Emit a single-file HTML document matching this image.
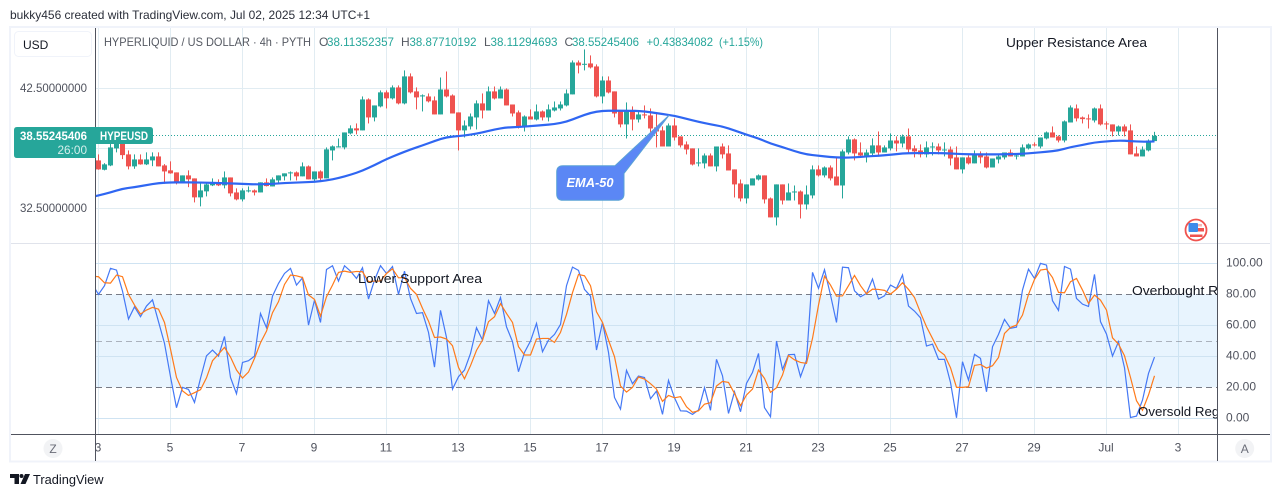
<!DOCTYPE html>
<html lang="en">
<head>
<meta charset="utf-8">
<title>HYPERLIQUID / US DOLLAR chart</title>
<style>
html,body{margin:0;padding:0;background:#fff;width:1281px;height:497px;overflow:hidden}
svg{display:block}
text{font-family:"Liberation Sans",sans-serif;font-size:12px}
</style>
</head>
<body>
<svg id="chart" xmlns="http://www.w3.org/2000/svg" width="1281" height="497" viewBox="0 0 1281 497">
  <defs>
    <clipPath id="mainClip"><rect x="96" y="28" width="1121" height="215"/></clipPath>
    <clipPath id="stochClip"><rect x="96" y="244" width="1121" height="190"/></clipPath>
  </defs>
  <rect x="0" y="0" width="1281" height="497" fill="#ffffff"/>
  <text x="10" y="19" fill="#2a2e39" textLength="360" lengthAdjust="spacingAndGlyphs">bukky456 created with TradingView.com, Jul 02, 2025 12:34 UTC+1</text>
  <rect x="10" y="27" width="1261" height="434.500" fill="none" stroke="#f0f3fa" stroke-width="2"/>

  <g id="gridLayer"></g>
  <rect x="96" y="294.3" width="1121" height="93" fill="#2196f3" fill-opacity="0.1"/>
  <g id="stochGrid"></g>
  <line x1="96" x2="1217" y1="294.5" y2="294.5" stroke="#787b86" stroke-dasharray="6 4"/>
  <line x1="96" x2="1217" y1="341.5" y2="341.5" stroke="#787b86" stroke-opacity="0.55" stroke-dasharray="6 4"/>
  <line x1="96" x2="1217" y1="387.5" y2="387.5" stroke="#787b86" stroke-dasharray="6 4"/>

  <line x1="96" x2="1217" y1="135.5" y2="135.5" stroke="#26a69a" stroke-dasharray="1 2"/>
  <g id="candleLayer" clip-path="url(#mainClip)"></g>
  <path id="emaLine" fill="none" stroke="#2f66f2" stroke-width="2.2" stroke-linejoin="round" clip-path="url(#mainClip)"/>
  <polyline id="stochK" fill="none" stroke="#4478f5" stroke-width="1.2" clip-path="url(#stochClip)"/>
  <polyline id="stochD" fill="none" stroke="#ff7a1a" stroke-width="1.2" clip-path="url(#stochClip)"/>

  <path d="M563,165.7 H615 L669.3,115 L624,173.500 V194 Q624,200.300 617,200.300 H563 Q556.700,200.300 556.700,194 V172 Q556.700,165.700 563,165.700 Z" fill="#5b87f5" stroke="#5aa2d6" stroke-width="1"/>
  <text x="566.500" y="187" fill="#ffffff" font-style="italic" font-weight="bold" style="font-size:13px" textLength="47" lengthAdjust="spacingAndGlyphs">EMA-50</text>

  <text x="1006" y="47" fill="#131722" style="font-size:13px" textLength="141" lengthAdjust="spacingAndGlyphs">Upper Resistance Area</text>
  <text x="358" y="283" fill="#131722" style="font-size:13px" textLength="124" lengthAdjust="spacingAndGlyphs">Lower Support Area</text>
  <g clip-path="url(#stochClip)">
    <text x="1132" y="295" fill="#131722" style="font-size:13px" textLength="120" lengthAdjust="spacingAndGlyphs">Overbought Region</text>
    <text x="1138" y="416" fill="#131722" style="font-size:13px" textLength="99" lengthAdjust="spacingAndGlyphs">Oversold Region</text>
  </g>

  <g>
    <text x="104" y="46" fill="#555962" textLength="207" lengthAdjust="spacingAndGlyphs">HYPERLIQUID / US DOLLAR · 4h · PYTH</text>
    <text x="319" y="46" fill="#555962">O</text>
    <text x="327" y="46" fill="#26a69a" textLength="67" lengthAdjust="spacingAndGlyphs">38.11352357</text>
    <text x="401" y="46" fill="#555962">H</text>
    <text x="409.500" y="46" fill="#26a69a" textLength="67" lengthAdjust="spacingAndGlyphs">38.87710192</text>
    <text x="484" y="46" fill="#555962">L</text>
    <text x="490.500" y="46" fill="#26a69a" textLength="67" lengthAdjust="spacingAndGlyphs">38.11294693</text>
    <text x="564.500" y="46" fill="#555962">C</text>
    <text x="572" y="46" fill="#26a69a" textLength="67" lengthAdjust="spacingAndGlyphs">38.55245406</text>
    <text x="646.500" y="46" fill="#26a69a" textLength="66.500" lengthAdjust="spacingAndGlyphs">+0.43834082</text>
    <text x="719" y="46" fill="#26a69a" textLength="44" lengthAdjust="spacingAndGlyphs">(+1.15%)</text>
  </g>

  <g>
    <circle cx="1196" cy="230" r="10.500" fill="#ffffff" stroke="#f0534f" stroke-width="1.800"/>
    <rect x="1197" y="228" width="7" height="3.500" fill="#f0534f"/>
    <rect x="1190" y="234.500" width="12.500" height="2.500" fill="#f0534f"/>
    <rect x="1188.500" y="223" width="9.500" height="9" rx="1" fill="#3d8bea"/>
    <rect x="1198" y="224" width="4" height="2.500" fill="#f7b4b2"/>
  </g>

  <g id="priceAxis"></g>
  <g id="stochAxis"></g>
  <g id="timeAxis"></g>

  <line x1="11" x2="1270" y1="243.500" y2="243.500" stroke="#e0e3eb" stroke-width="1"/>
  <line x1="11" x2="1270" y1="434.500" y2="434.500" stroke="#50535e" stroke-width="1"/>
  <line x1="95.500" x2="95.500" y1="28" y2="461" stroke="#50535e" stroke-width="1"/>
  <line x1="1217.500" x2="1217.500" y1="28" y2="461" stroke="#50535e" stroke-width="1"/>

  <g>
    <rect x="14.500" y="31.500" width="77" height="25" rx="4" fill="#ffffff" stroke="#f0f3fa"/>
    <text x="23" y="49" fill="#131722">USD</text>
  </g>

  <g>
    <path d="M96,127 H150 Q153,127 153,130 V141 Q153,144 150,144 H96 Z" fill="#26a69a"/>
    <path d="M96,127 H17 Q14,127 14,130 V155 Q14,158 17,158 H96 Z" fill="#26a69a"/>
    <text x="87" y="140" fill="#ffffff" text-anchor="end" font-weight="bold" textLength="67" lengthAdjust="spacingAndGlyphs">38.55245406</text>
    <text x="87" y="154" fill="#d5efec" text-anchor="end" textLength="29.500" lengthAdjust="spacingAndGlyphs">26:00</text>
    <text x="100" y="140" fill="#ffffff" font-weight="bold" textLength="48" lengthAdjust="spacingAndGlyphs">HYPEUSD</text>
  </g>

  <g>
    <circle cx="53" cy="448.500" r="9.500" fill="#f2f3f5"/>
    <text x="53" y="453" fill="#6a6d78" text-anchor="middle">Z</text>
  </g>
  <g>
    <circle cx="1244.700" cy="448.500" r="9.500" fill="#f2f3f5"/>
    <text x="1244.700" y="453" fill="#6a6d78" text-anchor="middle">A</text>
  </g>

  <g>
    <polygon points="10,474 19,474 19,484 14.500,484 14.500,478 10,478" fill="#131722"/>
    <circle cx="21.500" cy="476" r="2" fill="#131722"/>
    <polygon points="25,474 30,474 25.500,484 20.500,484" fill="#131722"/>
    <text x="33" y="484" fill="#131722" style="font-size:13px" textLength="70.500" lengthAdjust="spacingAndGlyphs">TradingView</text>
  </g>
</svg>

<script>
const opens = [
36.50,35.72,36.08,37.50,38.02,37.00,36.00,36.58,36.17,36.50,
36.83,36.08,35.67,35.50,34.67,35.25,35.00,33.42,33.92,34.42,
34.69,34.42,35.08,33.83,33.25,33.92,34.00,33.83,34.67,34.33,
34.83,35.17,35.42,35.50,35.17,36.00,34.92,35.58,35.00,37.33,
37.58,37.58,38.75,39.17,39.00,41.58,40.08,41.00,42.17,41.67,
42.58,41.25,43.50,42.25,41.83,41.83,41.50,40.33,42.41,41.91,
40.50,39.00,39.33,40.08,41.25,40.66,42.25,41.66,42.41,41.16,
40.50,39.25,40.16,39.91,40.58,40.08,40.66,40.83,41.08,42.00,
44.66,44.52,44.58,44.33,41.83,43.16,42.25,40.58,39.50,40.58,
39.91,40.33,40.25,39.25,39.00,37.66,39.41,38.50,37.83,37.50,
36.25,36.25,36.91,36.00,37.66,37.08,35.75,34.58,33.33,34.41,
34.91,35.25,33.33,31.75,34.50,33.16,33.83,33.91,32.83,33.58,
35.75,35.25,35.91,35.16,34.41,37.16,38.25,37.16,36.91,37.08,
37.75,37.16,37.50,38.16,37.91,38.50,37.50,37.33,37.00,37.61,
37.66,37.36,37.41,36.75,35.75,36.75,36.25,36.91,36.83,35.91,
36.58,36.75,37.16,36.86,36.83,37.50,37.83,37.66,38.33,38.83,
38.50,38.16,39.66,40.83,40.08,40.00,39.83,40.83,39.58,39.50,
38.91,39.33,39.00,37.08,36.83,37.33,38.11];
const highs = [
37.00,36.27,37.89,38.17,38.17,37.33,37.00,37.00,37.17,37.17,
37.17,36.19,36.42,35.50,35.25,35.67,35.00,34.58,34.58,35.00,
34.92,35.58,35.08,34.17,34.17,34.33,34.08,34.67,35.00,35.08,
35.25,35.42,35.58,35.58,36.33,36.08,35.58,35.67,37.58,37.75,
38.33,38.83,39.42,39.58,41.83,41.67,41.08,42.33,42.33,42.75,
42.75,44.00,43.75,42.58,42.00,42.08,41.83,43.41,43.91,42.00,
40.50,39.83,40.41,41.50,42.08,42.66,42.66,42.66,42.50,41.16,
40.66,40.25,40.75,41.16,40.66,41.16,41.41,41.41,42.41,44.83,
44.83,45.75,45.25,44.50,43.50,43.50,42.25,40.66,41.33,41.00,
40.66,41.08,40.83,40.41,39.33,39.58,40.00,38.50,38.08,37.50,
37.50,37.08,37.08,37.66,37.91,37.75,35.75,34.91,34.50,35.00,
35.33,35.25,33.41,34.50,34.50,34.58,34.41,34.00,34.41,36.08,
36.08,36.00,36.08,36.66,37.41,38.50,38.33,38.00,37.41,38.33,
38.91,37.75,38.75,38.50,38.66,39.16,37.75,37.83,38.08,38.00,
37.91,38.00,37.66,37.66,36.75,36.91,37.33,37.25,37.16,36.66,
36.91,37.16,37.41,37.00,37.83,37.91,38.00,38.41,38.91,39.33,
38.58,39.83,41.08,41.16,40.16,40.33,40.91,41.16,39.75,39.50,
39.41,39.50,39.50,37.66,37.66,38.25,38.88];
const lows = [
35.72,35.67,36.02,37.17,36.61,35.75,35.80,36.14,36.11,36.02,
36.00,34.55,35.39,34.50,34.67,34.27,33.00,32.67,33.50,34.36,
34.36,34.17,33.50,33.17,33.08,33.83,33.58,33.83,34.33,34.33,
34.58,34.83,34.83,34.83,35.17,34.92,34.75,34.83,35.00,36.50,
37.58,37.42,38.67,38.67,39.00,39.58,39.75,40.92,40.83,41.58,
41.17,41.17,42.08,40.75,40.58,41.33,40.33,40.33,41.75,40.41,
37.33,38.41,39.08,39.08,40.00,40.66,41.58,41.66,41.08,40.16,
39.16,38.91,39.91,39.83,39.83,39.75,40.58,40.66,41.00,42.00,
43.75,44.00,44.16,41.75,41.25,42.08,40.08,39.25,38.33,39.00,
39.66,40.00,38.75,37.58,37.66,37.66,38.16,37.58,37.00,36.08,
36.00,35.83,36.00,35.58,36.66,35.66,33.41,33.08,32.91,34.41,
34.83,32.91,31.75,31.08,32.83,33.16,33.16,31.66,32.41,33.33,
35.16,35.08,34.83,34.41,33.33,37.00,36.50,36.75,36.33,36.91,
36.83,37.16,37.33,37.25,37.58,37.16,36.75,36.75,36.75,36.91,
37.00,36.83,36.08,35.75,35.41,36.16,36.25,36.25,35.83,35.91,
36.25,36.58,36.83,36.58,36.83,37.41,37.66,37.50,38.25,38.41,
38.00,38.00,39.66,39.75,39.58,39.16,39.66,39.41,39.08,38.50,
38.58,38.50,37.00,36.83,36.83,37.25,38.11];
const closes = [
35.75,36.17,37.58,38.02,36.94,36.00,36.58,36.17,36.58,36.83,
36.00,35.58,35.42,34.67,35.25,34.92,33.42,34.00,34.50,34.69,
34.42,35.08,33.75,33.25,34.00,34.00,33.83,34.67,34.36,34.92,
35.25,35.42,35.50,35.17,36.00,34.92,35.58,35.00,37.42,37.67,
37.67,38.83,39.17,39.00,41.58,40.08,41.08,42.17,41.67,42.58,
41.25,43.50,42.17,41.75,41.92,41.42,40.33,42.41,41.83,40.41,
39.00,39.41,40.16,41.25,40.66,42.25,41.66,42.41,41.08,40.41,
39.25,40.16,39.91,40.58,40.08,40.75,40.91,41.16,42.08,44.66,
44.41,44.55,44.25,41.83,43.16,42.16,40.41,39.50,40.58,39.91,
40.33,40.25,39.16,38.91,37.66,39.41,38.41,37.75,37.41,36.16,
36.33,36.91,36.00,37.66,37.00,35.66,34.50,33.33,34.50,35.00,
35.25,33.25,31.75,34.50,33.16,33.83,33.91,32.83,33.66,35.75,
35.25,35.91,35.00,34.41,37.25,38.25,37.08,36.91,37.16,37.75,
37.16,37.58,38.16,37.91,38.50,37.41,37.25,37.00,37.58,37.66,
37.33,37.41,36.66,35.75,36.75,36.25,36.91,36.75,35.91,36.66,
36.83,37.16,36.83,36.91,37.58,37.83,37.77,38.41,38.83,38.41,
38.16,39.75,40.91,40.00,39.94,39.94,40.83,39.50,39.52,38.91,
39.33,38.91,37.00,36.83,37.41,38.16,38.55];

/* first entry sits one bar before the first candle and is clipped by the pane */
const emaBars = [
-1,0,2,4,6,8,10,12,14,16,18,20,22,24,26,28,30,32,34,36,38,40,42,44,46,48,50,52,54,
56,58,60,62,64,66,68,70,72,74,76,78,80,82,84,86,88,90,92,94,96,98,100,102,104,106,108,110,
112,114,116,118,120,122,124,126,128,130,132,134,136,138,140,142,144,146,148,150,152,154,156,158,160,162,164,166,168,170,172,174,176];
const emaValues = [
33.46,33.58,33.83,34.14,34.27,34.44,34.61,34.67,34.67,34.67,34.64,34.61,34.58,34.55,34.50,34.52,34.58,34.64,34.67,34.72,34.83,35.02,35.30,35.64,36.11,36.61,37.02,37.41,37.75,
38.11,38.44,38.52,38.64,38.83,39.08,39.25,39.28,39.36,39.44,39.52,39.72,40.11,40.47,40.64,40.64,40.63,40.63,40.52,40.36,40.22,39.97,39.72,39.50,39.33,39.00,38.64,38.33,
37.91,37.61,37.27,37.00,36.89,36.78,36.72,36.75,36.83,36.89,36.97,37.08,37.11,37.11,37.11,37.08,37.02,37.00,37.00,37.00,37.02,37.05,37.13,37.22,37.33,37.61,37.78,38.00,38.08,38.16,38.11,38.05,38.08];

/* first entry sits one bar before the first candle and is clipped by the pane */
const stochKValues = [
86.4,80.0,85.6,96.8,95.7,82.1,64.1,72.0,65.6,72.5,76.5,62.4,48.4,26.9,6.9,20.0,18.7,10.3,25.8,40.4,
44.1,40.2,52.9,26.4,15.9,36.1,37.2,40.2,67.7,58.5,78.9,87.1,93.5,96.8,86.0,90.7,60.2,76.3,61.9,96.1,
98.5,88.6,98.5,95.0,90.3,97.2,77.0,89.2,98.5,93.5,98.0,80.0,95.0,77.4,67.7,68.2,55.5,33.1,69.7,52.2,
18.9,26.9,31.2,41.9,58.5,50.5,75.9,67.7,78.0,59.1,49.5,30.1,42.6,49.9,61.3,43.0,50.5,54.2,60.6,85.6,
97.6,95.5,83.2,78.9,44.1,61.9,42.6,13.5,6.0,31.0,22.4,27.3,26.4,12.7,17.6,2.6,24.5,13.3,4.9,4.7,
2.6,5.4,19.8,5.2,38.1,27.5,3.2,17.2,4.3,22.6,29.7,41.9,6.9,1.1,49.9,31.6,41.1,41.3,26.9,37.6,
94.2,83.9,95.9,79.6,61.9,97.6,97.2,82.3,78.5,80.6,89.9,77.0,79.1,86.0,83.9,92.5,72.5,69.2,64.9,46.7,
47.9,38.1,38.1,23.2,0.4,36.6,24.7,41.3,38.7,17.2,46.2,54.2,63.9,58.1,58.9,82.8,96.3,90.3,100.0,98.9,
75.9,69.7,98.0,96.3,77.4,73.7,72.2,92.9,62.4,54.4,40.2,49.5,32.7,0.6,1.5,11.8,29.0,39.6];
const stochDValues = [
91.8,91.4,87.5,87.3,92.5,91.4,80.0,73.1,67.3,69.9,71.6,70.5,61.9,44.7,26.4,17.8,14.8,16.6,18.5,26.2,
37.2,41.5,45.8,39.6,31.2,26.0,29.9,38.7,48.8,56.3,68.2,75.3,86.4,92.5,92.0,90.9,79.6,76.8,66.0,78.5,
86.0,94.2,95.0,94.2,94.8,94.6,88.2,88.6,88.6,93.5,96.5,90.7,90.9,83.9,80.0,71.0,62.8,52.2,52.5,51.2,
46.9,32.9,25.6,34.0,43.9,50.5,62.4,65.6,74.0,67.7,61.9,46.2,40.9,40.9,51.2,51.6,51.6,49.0,55.5,67.1,
81.1,92.9,92.0,85.6,68.8,61.9,50.5,39.8,20.9,17.0,20.0,26.7,25.4,22.4,18.9,11.0,14.8,13.3,14.0,7.5,
3.9,4.9,9.2,10.1,20.9,23.9,23.2,16.1,8.2,15.1,18.9,31.2,25.8,16.8,19.8,28.0,40.6,37.8,36.1,35.5,
51.6,73.1,91.8,86.0,78.9,79.1,85.6,92.2,85.6,80.4,83.4,83.2,82.6,80.2,83.4,87.5,83.2,78.0,68.2,59.1,
51.6,43.9,40.9,32.7,20.0,20.0,20.4,34.2,34.8,32.5,34.0,39.3,54.8,58.7,60.2,66.7,80.0,89.7,95.7,96.3,
90.9,81.3,81.1,88.2,90.3,82.8,74.2,79.6,76.3,69.9,52.0,47.9,40.4,26.4,11.4,5.2,15.1,27.5];

const priceTicks = [42.5, 37.5, 32.5];
const priceTickLabels = ['42.50000000', '', '32.50000000'];
const stochTicks = [100, 80, 60, 40, 20, 0];
const stochTickLabels = ['100.00', '80.00', '60.00', '40.00', '20.00', '0.00'];
const stochGridTicks = [100, 60, 40, 0];
const timeLabels = ['3','5','7','9','11','13','15','17','19','21','23','25','27','29','Jul','3'];
const barsPerTimeLabel = 12;

const SVGNS = 'http://www.w3.org/2000/svg';
function xBar(i) { return 98.5 + 6 * i; }
function yPrice(p) { return 88.4 + (42.5 - p) * 12; }
function yStoch(v) { return 418.4 - v * 1.55; }
function make(tag, parentId) {
  const el = document.createElementNS(SVGNS, tag);
  document.getElementById(parentId).appendChild(el);
  return el;
}

/* vertical grid + time labels */
timeLabels.forEach(function (label, k) {
  const x = xBar(k * barsPerTimeLabel);
  const line = make('line', 'gridLayer');
  
  
  line.setAttribute('x1', x);
  line.setAttribute('x2', x);
  line.setAttribute('y1', 28);
  line.setAttribute('y2', 434);
  line.setAttribute('stroke', '#e1ecf2');
  const t = make('text', 'timeAxis');
  
  
  t.setAttribute('x', x - 0.5);
  t.setAttribute('y', 451.5);
  t.setAttribute('fill', '#50535e');
  t.setAttribute('text-anchor', 'middle');
  t.textContent = label;
});

/* main pane horizontal grid + price labels */
priceTicks.forEach(function (p, k) {
  const y = Math.floor(yPrice(p)) + 0.5;
  const line = make('line', 'gridLayer');
  
  
  line.setAttribute('x1', 96);
  line.setAttribute('x2', 1217);
  line.setAttribute('y1', y);
  line.setAttribute('y2', y);
  line.setAttribute('stroke', '#e1ecf2');
  if (priceTickLabels[k]) {
    const t = make('text', 'priceAxis');
    
    
    t.setAttribute('x', 87);
    t.setAttribute('y', yPrice(p) + 3.6);
    t.setAttribute('fill', '#50535e');
    t.setAttribute('text-anchor', 'end');
    t.setAttribute('textLength', '67');
    t.setAttribute('lengthAdjust', 'spacingAndGlyphs');
    t.textContent = priceTickLabels[k];
  }
});

/* stochastic pane grid + labels */
stochGridTicks.forEach(function (v) {
  const y = Math.floor(yStoch(v)) + 0.5;
  const line = make('line', 'stochGrid');
  
  
  line.setAttribute('x1', 96);
  line.setAttribute('x2', 1217);
  line.setAttribute('y1', y);
  line.setAttribute('y2', y);
  line.setAttribute('stroke', '#cfe3f2');
});
stochTicks.forEach(function (v, k) {
  const t = make('text', 'stochAxis');
  
  
  t.setAttribute('x', 1226);
  t.setAttribute('y', yStoch(v) + 3);
  t.setAttribute('fill', '#50535e');
  t.textContent = stochTickLabels[k];
});

/* candles */
opens.forEach(function (open, i) {
  const up = closes[i] >= open;
  const color = up ? '#26a69a' : '#ef5350';
  const c = xBar(i);
  const wick = make('rect', 'candleLayer');
  
  
  wick.setAttribute('x', c - 0.5);
  wick.setAttribute('width', 1);
  wick.setAttribute('y', yPrice(highs[i]));
  wick.setAttribute('height', yPrice(lows[i]) - yPrice(highs[i]));
  wick.setAttribute('fill', color);
  const top = yPrice(Math.max(open, closes[i]));
  const bottom = yPrice(Math.min(open, closes[i]));
  const body = make('rect', 'candleLayer');
  
  
  body.setAttribute('x', c - 2.5);
  body.setAttribute('width', 5);
  body.setAttribute('y', top);
  body.setAttribute('height', Math.max(1, bottom - top));
  body.setAttribute('fill', color);
});

/* EMA drawn as a smoothed curve through the read values */
const emaPts = emaBars.map(function (b, k) { return [xBar(b), yPrice(emaValues[k])]; });
let emaPath = 'M' + emaPts[0][0] + ',' + emaPts[0][1];
for (let k = 1; k < emaPts.length - 1; k++) {
  const mx = (emaPts[k][0] + emaPts[k + 1][0]) / 2;
  const my = (emaPts[k][1] + emaPts[k + 1][1]) / 2;
  emaPath += ' Q' + emaPts[k][0] + ',' + emaPts[k][1] + ' ' + mx + ',' + my;
}
emaPath += ' L' + emaPts[emaPts.length - 1][0] + ',' + emaPts[emaPts.length - 1][1];
document.getElementById('emaLine').setAttribute('d', emaPath);

document.getElementById('stochK').setAttribute('points',
  stochKValues.map(function (v, k) { return xBar(k - 1) + ',' + yStoch(v); }).join(' '));
document.getElementById('stochD').setAttribute('points',
  stochDValues.map(function (v, k) { return xBar(k - 1) + ',' + yStoch(v); }).join(' '));
</script>
</body>
</html>
